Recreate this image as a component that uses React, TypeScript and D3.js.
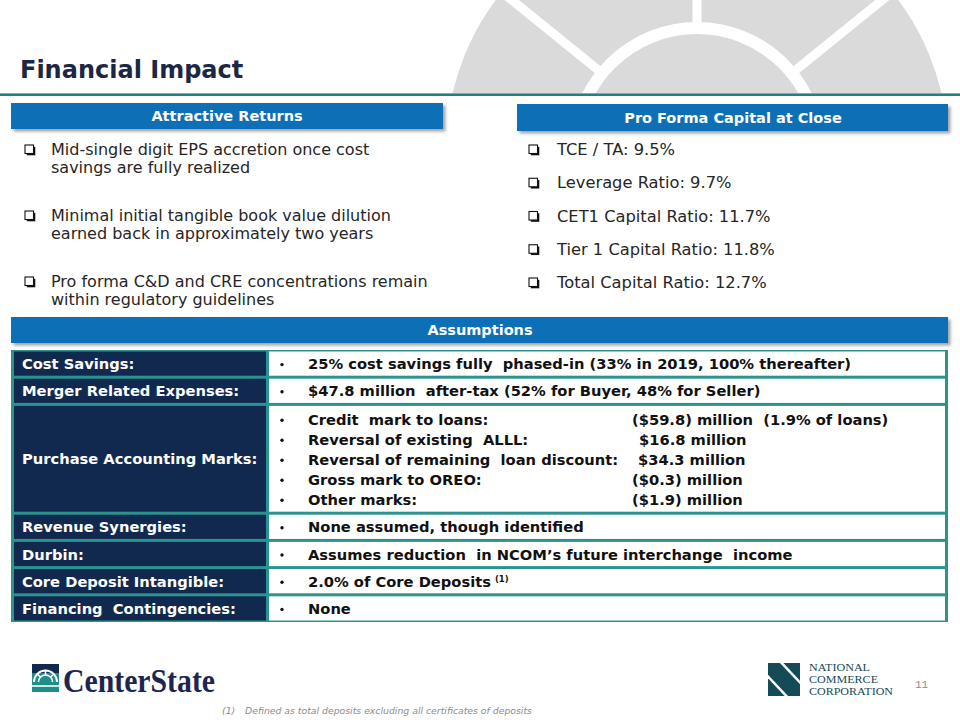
import React from "react";
import * as d3 from "d3";

const TITLE = "Financial Impact";
const returnsHeader = "Attractive Returns";
const capitalHeader = "Pro Forma Capital at Close";
const assumptionsHeader = "Assumptions";

const returnsBullets: string[][] = [
  ["Mid-single digit EPS accretion once cost", "savings are fully realized"],
  ["Minimal initial tangible book value dilution", "earned back in approximately two years"],
  ["Pro forma C&D and CRE concentrations remain", "within regulatory guidelines"],
];

const capitalBullets: string[] = [
  "TCE / TA: 9.5%",
  "Leverage Ratio: 9.7%",
  "CET1 Capital Ratio: 11.7%",
  "Tier 1 Capital Ratio: 11.8%",
  "Total Capital Ratio: 12.7%",
];

const rowLabels: string[] = [
  "Cost Savings:",
  "Merger Related Expenses:",
  "Purchase Accounting Marks:",
  "Revenue Synergies:",
  "Durbin:",
  "Core Deposit Intangible:",
  "Financing  Contingencies:",
];
const rowUnits: number[] = [1, 1, 4, 1, 1, 1, 1];
const rowTexts: string[] = [
  "25% cost savings fully  phased-in (33% in 2019, 100% thereafter)",
  "$47.8 million  after-tax (52% for Buyer, 48% for Seller)",
  "",
  "None assumed, though identified",
  "Assumes reduction  in NCOM’s future interchange  income",
  "2.0% of Core Deposits",
  "None",
];
const markLabels: string[] = [
  "Credit  mark to loans:",
  "Reversal of existing  ALLL:",
  "Reversal of remaining  loan discount:",
  "Gross mark to OREO:",
  "Other marks:",
];
const markValues: string[] = [
  "($59.8) million  (1.9% of loans)",
  "$16.8 million",
  "$34.3 million",
  "($0.3) million",
  "($1.9) million",
];
const markValueOffsets: number[] = [0, 7, 6, 0, 0];

const footnote = "Defined as total deposits excluding all certificates of deposits";
const pageNumber = "11";
const ncomLines = ["NATIONAL", "COMMERCE", "CORPORATION"];
const ncomWidths = [61, 69, 84];

const BLUE = "#0f6fb6";
const NAVY = "#12294f";
const TEAL = "#2b9490";
const TEXT = "#262626";
const SANS = "'DejaVu Sans', Verdana, sans-serif";

function CheckBox({ x, y }: { x: number; y: number }) {
  return (
    <g>
      <rect x={x + 1.8} y={y + 1.8} width={8.5} height={8.5} fill="#111" />
      <rect x={x} y={y} width={8.5} height={8.5} fill="#fff" stroke="#111" strokeWidth={1.1} />
    </g>
  );
}

export default function App() {
  const W = 960;
  const H = 720;

  const totalUnits = d3.sum(rowUnits);
  const yRow = d3.scaleLinear().domain([0, totalUnits]).range([350, 622]);
  const starts = d3.cumsum([0, ...rowUnits.slice(0, -1)]);
  const rows = rowLabels.map((label, i) => ({
    label,
    text: rowTexts[i],
    y0: yRow(starts[i]),
    y1: yRow(starts[i] + rowUnits[i]),
  }));
  const xCol = d3.scaleLinear().domain([0, 1]).range([11, 948]);
  const split = 267.5;

  const cx = 697;
  const cy = 150;
  const spokeAngles = [-51, 0, 51];

  const leftBulletY = d3.scaleLinear().domain([0, 2]).range([155, 287]);
  const rightBulletY = d3.scaleLinear().domain([0, 4]).range([155, 288]);

  const TABLE_FS = 14.7;

  return (
    <svg
      width={W}
      height={H}
      viewBox={`0 0 ${W} ${H}`}
      style={{ position: "absolute", left: 0, top: 0, background: "#fff" }}
      fontFamily={SANS}
    >
      <defs>
        <clipPath id="wmclip">
          <rect x={0} y={0} width={W} height={93} />
        </clipPath>
        <clipPath id="ncclip">
          <rect x={768} y={663} width={32} height={33} />
        </clipPath>
        <filter id="shadow" x="-5%" y="-30%" width="110%" height="180%">
          <feDropShadow dx={2.5} dy={2.5} stdDeviation={1.5} floodColor="#555" floodOpacity={0.55} />
        </filter>
      </defs>
      <rect x={0} y={0} width={W} height={H} fill="#fff" />

      {/* watermark */}
      <g clipPath="url(#wmclip)">
        <circle cx={cx} cy={cy} r={251} fill="#dadada" />
        {spokeAngles.map((a, i) => {
          const rad = ((a - 90) * Math.PI) / 180;
          const r0 = 118;
          const r1 = 320;
          return (
            <line
              key={i}
              x1={cx + r0 * Math.cos(rad)}
              y1={cy + r0 * Math.sin(rad)}
              x2={cx + r1 * Math.cos(rad)}
              y2={cy + r1 * Math.sin(rad)}
              stroke="#fff"
              strokeWidth={9}
            />
          );
        })}
        <circle cx={cx} cy={cy} r={122} fill="none" stroke="#fff" strokeWidth={12} />
      </g>

      {/* title */}
      <text x={20} y={78} fontSize={24} fontWeight="bold" fill="#1b2744">
        {TITLE}
      </text>
      <line x1={0} x2={W} y1={93.5} y2={93.5} stroke="#6bb5b3" strokeWidth={1} />
      <line x1={0} x2={W} y1={95} y2={95} stroke="#247f80" strokeWidth={2} />

      {/* section headers */}
      <g filter="url(#shadow)">
        <rect x={11} y={103} width={432} height={26} fill={BLUE} />
        <rect x={517} y={104} width={431} height={27} fill={BLUE} />
        <rect x={11} y={317} width={937} height={26} fill={BLUE} />
      </g>
      <g fill="#fff" fontWeight="bold" fontSize={14.5} textAnchor="middle">
        <text x={227} y={121}>{returnsHeader}</text>
        <text x={733} y={122.5}>{capitalHeader}</text>
        <text x={480} y={335}>{assumptionsHeader}</text>
      </g>

      {/* left bullets */}
      {returnsBullets.map((lines, i) => {
        const y = leftBulletY(i);
        return (
          <g key={i}>
            <CheckBox x={25} y={y - 10} />
            {lines.map((l, j) => (
              <text key={j} x={51} y={y + j * 18} fontSize={16} fill={TEXT}>
                {l}
              </text>
            ))}
          </g>
        );
      })}

      {/* right bullets */}
      {capitalBullets.map((l, i) => {
        const y = rightBulletY(i);
        return (
          <g key={i}>
            <CheckBox x={529} y={y - 10} />
            <text x={557} y={y} fontSize={16.3} fill={TEXT}>
              {l}
            </text>
          </g>
        );
      })}

      {/* table */}
      <rect x={xCol(0)} y={yRow(0)} width={xCol(1) - xCol(0)} height={yRow(totalUnits) - yRow(0)} fill={TEAL} />
      {rows.map((r, i) => {
        const top = r.y0 + 1.5;
        const bot = r.y1 - 1.5;
        const mid = (r.y0 + r.y1) / 2;
        return (
          <g key={i}>
            <rect x={14} y={top} width={split - 1.5 - 14} height={bot - top} fill={NAVY} />
            <rect x={split + 1.5} y={top} width={945 - split - 1.5} height={bot - top} fill="#fff" />
            <text
              x={22}
              y={mid + 5.5}
              fontSize={TABLE_FS}
              fontWeight="bold"
              fill="#fff"
              style={{ whiteSpace: "pre" }}
            >
              {r.label}
            </text>
            {r.text !== "" && (
              <g fontSize={TABLE_FS} fontWeight="bold" fill="#111">
                <circle cx={282} cy={mid + 1} r={1.7} fill="#111" />
                <text x={308} y={mid + 5.5} style={{ whiteSpace: "pre" }}>
                  {r.text}
                  {i === 5 && (
                    <tspan fontSize={8.5} dy={-5} dx={4}>
                      (1)
                    </tspan>
                  )}
                </text>
              </g>
            )}
            {r.text === "" &&
              markLabels.map((m, j) => {
                const ly = mid + 6 + (j - 2) * 20;
                return (
                  <g key={j} fontSize={TABLE_FS} fontWeight="bold" fill="#111">
                    <circle cx={282} cy={ly - 4.5} r={1.7} fill="#111" />
                    <text x={308} y={ly} style={{ whiteSpace: "pre" }}>
                      {m}
                    </text>
                    <text x={632 + markValueOffsets[j]} y={ly} style={{ whiteSpace: "pre" }}>
                      {markValues[j]}
                    </text>
                  </g>
                );
              })}
          </g>
        );
      })}

      {/* CenterState logo */}
      <g>
        <rect x={32} y={664} width={27} height={28} fill="#1e8f88" />
        <rect x={32} y={664} width={27} height={9} fill={NAVY} />
        <path d="M34,682 A11.5,11.5 0 0 1 57,682" fill="none" stroke="#fff" strokeWidth={2} />
        <path d="M38.5,682 A7,7 0 0 1 52.5,682" fill="none" stroke="#fff" strokeWidth={1.6} />
        <line x1={45.5} y1={670.5} x2={45.5} y2={675} stroke="#fff" strokeWidth={1.6} />
        <line x1={37} y1={674} x2={40.5} y2={677} stroke="#fff" strokeWidth={1.6} />
        <line x1={54} y1={674} x2={50.5} y2={677} stroke="#fff" strokeWidth={1.6} />
        <line x1={32} y1={686} x2={59} y2={686} stroke="#fff" strokeWidth={1.6} />
        <text
          x={63}
          y={692}
          fontFamily="'Liberation Serif', 'DejaVu Serif', serif"
          fontWeight="bold"
          fontSize={33}
          fill="#1d2650"
          textLength={152}
          lengthAdjust="spacingAndGlyphs"
        >
          CenterState
        </text>
      </g>

      {/* NCOM logo */}
      <g>
        <rect x={768} y={663} width={32} height={33} fill="#144b57" />
        <g clipPath="url(#ncclip)">
          <line x1={760} y1={668} x2={792} y2={702} stroke="#fff" strokeWidth={2.5} />
          <line x1={776} y1={657} x2={808} y2={691} stroke="#fff" strokeWidth={2.5} />
        </g>
        {ncomLines.map((l, i) => (
          <text
            key={i}
            x={809}
            y={671 + i * 11.8}
            fontFamily="'Liberation Serif', 'DejaVu Serif', serif"
            fontSize={10.5}
            fill="#164b57"
            textLength={ncomWidths[i]}
            lengthAdjust="spacingAndGlyphs"
          >
            {l}
          </text>
        ))}
      </g>

      <text x={915} y={688} fontSize={11} fill="#8c8c8c" fontFamily="'Liberation Mono', 'DejaVu Sans Mono', monospace">
        {pageNumber}
      </text>

      {/* footnote */}
      <g fontSize={9.3} fontStyle="italic" fill="#8c8c8c">
        <text x={222} y={714}>(1)</text>
        <text x={245} y={714}>{footnote}</text>
      </g>
    </svg>
  );
}
